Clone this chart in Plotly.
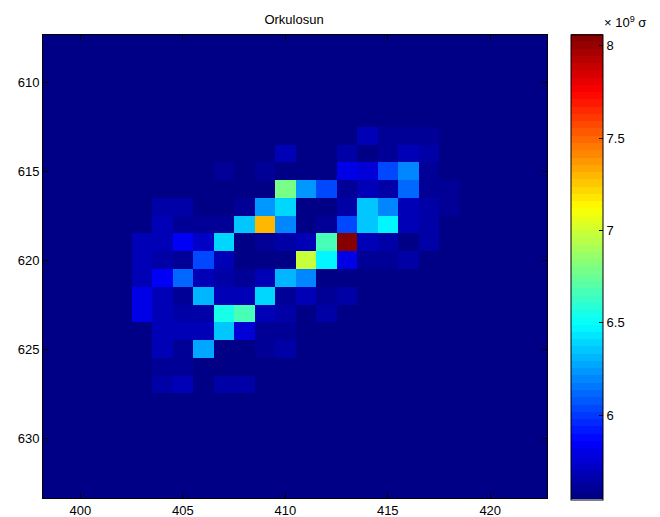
import plotly.graph_objects as go

# ---- data (values in units of 1e9) ----
x_cells = list(range(398, 424))          # column centres
y_cells = list(range(607, 634))          # row centres
background = 5.576
zmin, zmax = 5.545, 8.06

# non-background cells: row y -> {x: value}
row_613 = {414: 5.671, 415: 5.620, 416: 5.620, 417: 5.620}
row_614 = {410: 5.683, 413: 5.639, 414: 5.545, 415: 5.620, 416: 5.683, 417: 5.639}
row_615 = {407: 5.608, 409: 5.620, 413: 5.809, 414: 5.746, 415: 6.017, 416: 6.174, 417: 5.595}
row_616 = {410: 6.784, 411: 6.230, 412: 6.017, 413: 5.608, 414: 5.683, 415: 5.639,
           416: 6.130, 417: 5.595, 418: 5.620}
row_617 = {404: 5.658, 405: 5.627, 408: 5.620, 409: 6.237, 410: 6.400, 413: 5.658,
           414: 6.350, 415: 6.190, 416: 5.702, 417: 5.639, 418: 5.595}
row_618 = {404: 5.702, 405: 5.608, 406: 5.595, 407: 5.595, 408: 6.350, 409: 7.306,
           410: 6.205, 412: 5.620, 413: 6.030, 414: 6.350, 415: 6.488, 416: 5.702, 417: 5.639}
row_619 = {403: 5.683, 404: 5.683, 405: 5.859, 406: 5.721, 407: 6.400, 409: 5.608,
           410: 5.639, 411: 5.683, 412: 6.658, 413: 8.060, 414: 5.683, 415: 5.639,
           416: 5.560, 417: 5.639}
row_620 = {403: 5.683, 404: 5.639, 405: 5.595, 406: 6.048, 407: 5.683, 411: 6.960,
           412: 6.488, 413: 5.809, 414: 5.595, 415: 5.595, 416: 5.660}
row_621 = {403: 5.702, 404: 5.859, 405: 6.111, 406: 5.683, 407: 5.639, 408: 5.595,
           409: 5.671, 410: 6.300, 411: 6.210}
row_622 = {403: 5.809, 404: 5.683, 405: 5.608, 406: 6.300, 407: 5.702, 408: 5.702,
           409: 6.400, 410: 5.595, 411: 5.683, 412: 5.608, 413: 5.658}
row_623 = {403: 5.809, 404: 5.683, 405: 5.658, 406: 5.658, 407: 6.551, 408: 6.680,
           409: 5.671, 410: 5.639, 412: 5.639}
row_624 = {404: 5.702, 405: 5.683, 406: 5.683, 407: 6.350, 408: 5.760, 409: 5.608, 410: 5.595}
row_625 = {404: 5.683, 405: 5.595, 406: 6.280, 409: 5.620, 410: 5.639}
row_626 = {404: 5.620, 405: 5.620}
row_627 = {404: 5.639, 405: 5.683, 407: 5.639, 408: 5.639}

rows = {613: row_613, 614: row_614, 615: row_615, 616: row_616, 617: row_617,
        618: row_618, 619: row_619, 620: row_620, 621: row_621, 622: row_622,
        623: row_623, 624: row_624, 625: row_625, 626: row_626, 627: row_627}

xticks = [400, 405, 410, 415, 420]
yticks = [610, 615, 620, 625, 630]
cbticks = [6, 6.5, 7, 7.5, 8]
cbticktext = ["6", "6.5", "7", "7.5", "8"]

# ---- build matrix ----
Z = []
for yv in y_cells:
    r = rows.get(yv, {})
    Z.append([r.get(xv, background) for xv in x_cells])

# ---- MATLAB jet(64) stepped colorscale ----
def jet(t):
    r = min(max(1.5 - abs(4 * t - 3), 0), 1)
    g = min(max(1.5 - abs(4 * t - 2), 0), 1)
    b = min(max(1.5 - abs(4 * t - 1), 0), 1)
    return f"rgb({round(r*255)},{round(g*255)},{round(b*255)})"

n = 64
cs = []
for i in range(n):
    c = jet((i + 0.5) / n)
    cs.append([i / n, c])
    cs.append([(i + 1) / n, c])

FONT = "Liberation Sans, Arial, Helvetica, sans-serif"

OFF = 8                       # page body margin
W, H = 660 - OFF, 517 - OFF   # figure size
# target positions in window pixels
ax_l, ax_r, ax_t, ax_b = 42.7, 546.7, 34.7, 497.7
L = ax_l - OFF
T = ax_t - OFF
R = W - (ax_r - OFF)
B = H - (ax_b - OFF)
PW, PH = W - L - R, H - T - B

def px_x(px):   # window px -> paper x
    return (px - OFF - L) / PW

def px_y(py):   # window px -> paper y
    return (H - B - (py - OFF)) / PH

fig = go.Figure(go.Heatmap(
    x=x_cells, y=y_cells, z=Z, zmin=zmin, zmax=zmax,
    colorscale=cs,
    colorbar=dict(
        x=px_x(571), xanchor="left", xpad=0,
        y=px_y(266.7), yanchor="middle", ypad=0,
        lenmode="pixels", len=465, thickness=32,
        outlinewidth=1, outlinecolor="black",
        tickvals=cbticks, ticktext=cbticktext,
        ticks="inside", ticklen=4, tickcolor="black",
        tickfont=dict(family=FONT, size=13, color="black"),
    ),
))

fig.update_xaxes(
    range=[398.18, 422.77], tickvals=xticks, ticks="inside", ticklen=5,
    tickcolor="black", showline=True, linecolor="black", linewidth=1,
    mirror="ticks", showgrid=False, zeroline=False, automargin=False,
    tickfont=dict(family=FONT, size=13, color="black"),
)
fig.update_yaxes(
    range=[633.37, 607.34], tickvals=yticks, ticks="inside", ticklen=5,
    tickcolor="black", showline=True, linecolor="black", linewidth=1,
    mirror="ticks", showgrid=False, zeroline=False, automargin=False,
    tickfont=dict(family=FONT, size=13, color="black"),
)

fig.update_layout(
    width=W, height=H,
    margin=dict(l=L, r=R, t=T, b=B, pad=0, autoexpand=False),
    paper_bgcolor="white", plot_bgcolor="white",
    title=dict(text="Orkulosun", x=(294 - OFF) / W, xanchor="center",
               y=1 - (19 - OFF) / H, yanchor="middle",
               font=dict(family=FONT, size=13, color="black")),
    annotations=[dict(text="× 10<sup>9</sup> σ", xref="paper", yref="paper",
                      x=px_x(602), y=px_y(22),
                      xanchor="left", yanchor="middle", showarrow=False,
                      font=dict(family=FONT, size=13, color="black"))],
)

fig.write_html("out.html")
